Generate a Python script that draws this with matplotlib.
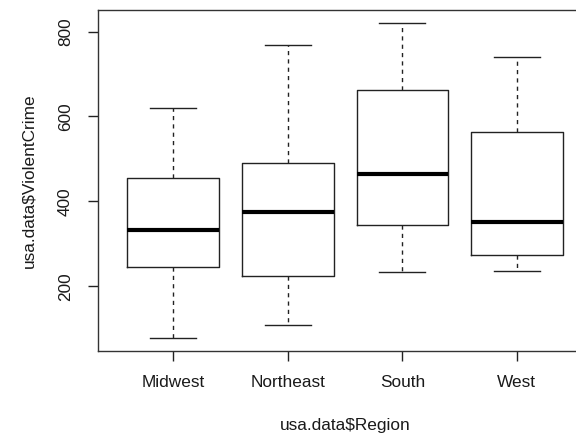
import matplotlib.pyplot as plt
import numpy as np

plt.rcParams['font.family'] = ['Liberation Sans', 'DejaVu Sans']

regions = ['Midwest', 'Northeast', 'South', 'West']
whis_lo = [78, 108, 234, 237]
q1 = [245, 224, 344, 273]
med = [332, 375, 464, 352]
q3 = [456, 490, 663, 563]
whis_hi = [621, 769, 821, 740]

stats = []
for i in range(len(regions)):
    stats.append(dict(whislo=whis_lo[i], q1=q1[i], med=med[i], q3=q3[i],
                      whishi=whis_hi[i], fliers=[]))

fig = plt.figure(figsize=(5.76, 4.36), dpi=100)
ax = fig.add_axes([0.1696, 0.1956, 0.859, 0.7815])

xpos = np.arange(1, len(regions) + 1)
ax.bxp(stats, positions=xpos, widths=0.8, capwidths=0.4, showfliers=False,
       boxprops=dict(color='#222222', linewidth=1.0),
       whiskerprops=dict(color='#222222', linewidth=1.0, linestyle=(0, (3, 3))),
       capprops=dict(color='#222222', linewidth=1.0),
       medianprops=dict(color='black', linewidth=3.0))

# R style extents (4% padding)
lo, hi = min(whis_lo), max(whis_hi)
pad = (hi - lo) * 0.04
ax.set_ylim(lo - pad, hi + pad)
ax.set_xlim(0.34, len(regions) + 0.66)

fs = 12.4
ax.set_xticks(xpos)
ax.set_xticklabels(regions)
ax.set_yticks([200, 400, 600, 800])
ax.set_yticklabels(['200', '400', '600', '800'], rotation=90, va='center')
ax.tick_params(axis='both', length=7.2, width=1.0, color='#222222',
               labelsize=fs, pad=10.5, labelcolor='#1a1a1a')

for side in ['top', 'right', 'bottom', 'left']:
    ax.spines[side].set_color('#333333')
    ax.spines[side].set_linewidth(1.0)

ax.set_xlabel('usa.data$Region', fontsize=fs, color='#1a1a1a', labelpad=20)
ax.set_ylabel('usa.data$ViolentCrime', fontsize=fs, color='#1a1a1a', labelpad=15.5)

fig.savefig('out.png', dpi=100)
